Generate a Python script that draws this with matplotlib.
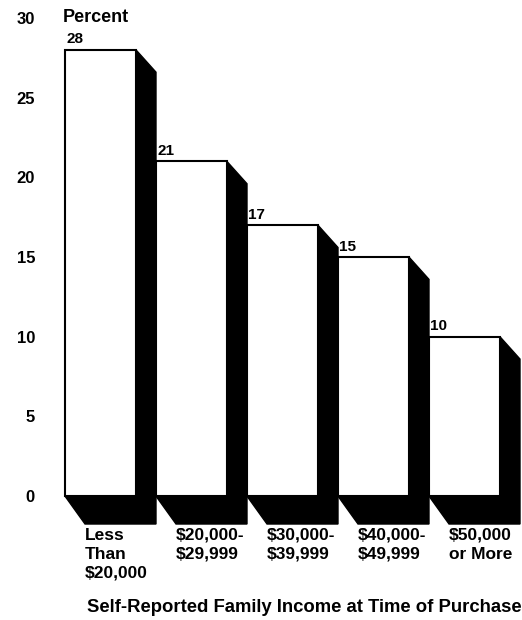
""" Percent of purchasers by self-reported family income, drawn as extruded 3D-style bars. """

import matplotlib.pyplot as plt
from matplotlib.patches import Polygon, Rectangle

income_labels = ["Less\nThan\n$20,000", "$20,000-\n$29,999", "$30,000-\n$39,999",
                 "$40,000-\n$49,999", "$50,000\nor More"]
percent_values = [28, 21, 17, 15, 10]
y_ticks = [0, 5, 10, 15, 20, 25, 30]

FONT = "Liberation Sans"
BAR_W = 0.78      # front face width, in bar-pitch units
DEPTH_X = 0.22    # extrusion to the right
DEPTH_TOP = 1.4   # extrusion down at the top edge (data units)
DEPTH_BOT = 1.75  # extrusion down at the base


def draw_bar(ax, x0, value):
    shadow = [(x0, 0), (x0 + DEPTH_X, -DEPTH_BOT), (x0 + BAR_W + DEPTH_X, -DEPTH_BOT),
              (x0 + BAR_W + DEPTH_X, value - DEPTH_TOP), (x0 + BAR_W, value), (x0 + BAR_W, 0)]
    ax.add_patch(Polygon(shadow, closed=True, facecolor="black", edgecolor="black", lw=1, zorder=2))
    ax.add_patch(Rectangle((x0, 0), BAR_W, value, facecolor="white", edgecolor="black", lw=1.5, zorder=3))
    ax.annotate(str(value), (x0, value), xytext=(1, 2.5), textcoords="offset points",
                ha="left", va="bottom", fontsize=11, fontweight="bold", family=FONT)


def main():
    fig = plt.figure(figsize=(5.22, 6.2), dpi=100)
    ax = fig.add_axes([60 / 522, 1 - 528 / 620, 462 / 522, 510 / 620])
    ax.set_xlim(-5 / 91, 457 / 91)
    ax.set_ylim(-2, 30)

    for i, v in enumerate(percent_values):
        draw_bar(ax, i, v)
        ax.text(i + DEPTH_X, -2.0, income_labels[i], ha="left", va="top", fontsize=12.5,
                fontweight="bold", family=FONT, linespacing=1.3, clip_on=False)

    ax.set_yticks(y_ticks)
    ax.set_yticklabels([str(t) for t in y_ticks], fontsize=12, fontweight="bold", family=FONT)
    ax.tick_params(axis="y", length=0, pad=18)
    ax.set_xticks([])
    for s in ax.spines.values():
        s.set_visible(False)

    ax.text(-0.02, 30, "Percent", ha="left", va="center", fontsize=13, fontweight="bold", family=FONT)
    fig.text(87 / 522, 1 - 607 / 620, "Self-Reported Family Income at Time of Purchase",
             ha="left", va="center", fontsize=13.3, fontweight="bold", family=FONT)

    fig.savefig("out.png", dpi=100)
    plt.close(fig)


if __name__ == "__main__":
    main()
